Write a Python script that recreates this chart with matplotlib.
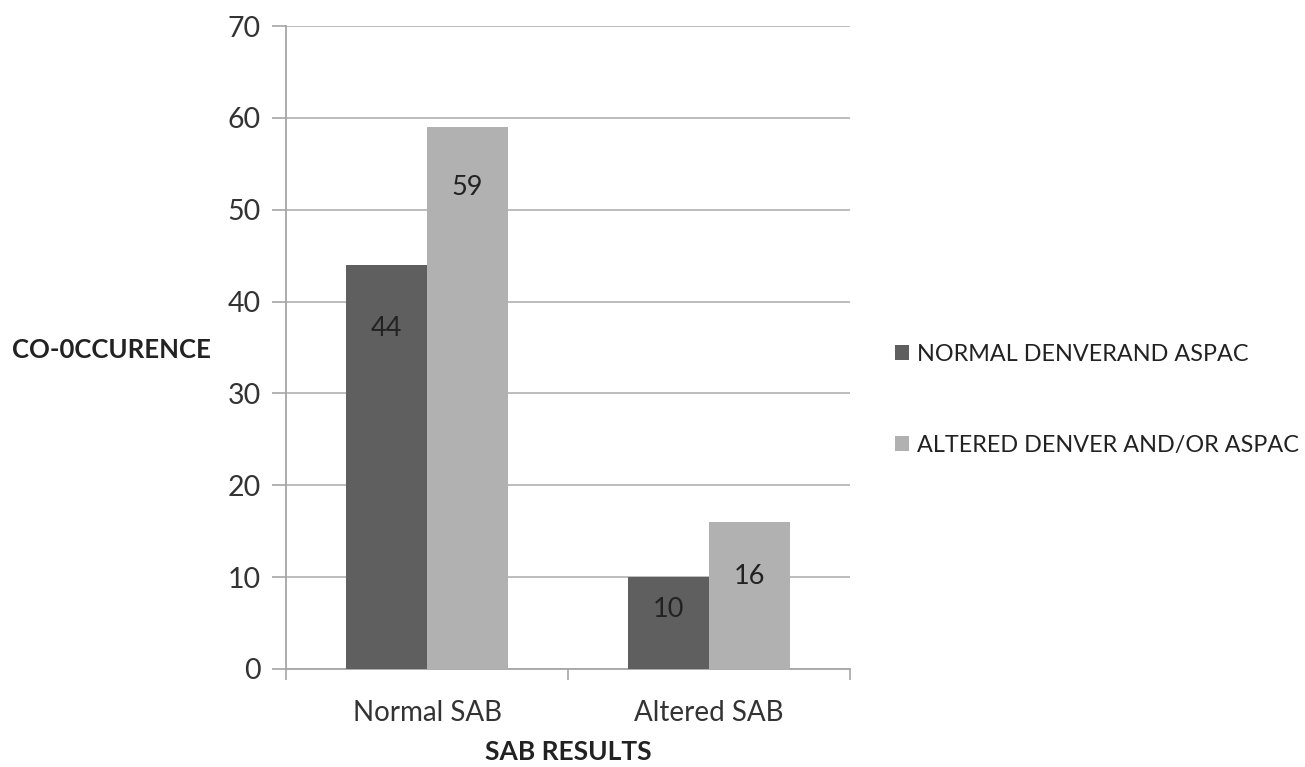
import matplotlib
matplotlib.use("Agg")
import matplotlib.pyplot as plt
import numpy as np

categories = ["Normal SAB", "Altered SAB"]
series_names = ["NORMAL DENVERAND ASPAC", "ALTERED DENVER AND/OR ASPAC"]
normal_vals = [44, 10]
altered_vals = [59, 16]
y_ticks = [0, 10, 20, 30, 40, 50, 60, 70]

plt.rcParams["font.family"] = ["Lato", "DejaVu Sans"]

fig = plt.figure(figsize=(13.05, 7.67), dpi=100)
ax = fig.add_axes([0.2192, 0.1278, 0.4321, 0.8383])

x = np.arange(len(categories))
w = 0.287
colors = ["#5f5f5f", "#b1b1b1"]
b1 = ax.bar(x - w / 2, normal_vals, w, color=colors[0], label=series_names[0], zorder=3)
b2 = ax.bar(x + w / 2, altered_vals, w, color=colors[1], label=series_names[1], zorder=3)

# value labels sit inside the bars, a little below each top
offsets = [[6.9, 3.5], [6.6, 5.9]]
for bars, vals, offs in zip([b1, b2], [normal_vals, altered_vals], offsets):
    for rect, v, o in zip(bars, vals, offs):
        ax.text(rect.get_x() + rect.get_width() / 2, v - o, str(v),
                ha="center", va="center", fontsize=19.5, color="#222222", zorder=4)

ax.set_xlim(-0.5, 1.5)
ax.set_ylim(0, 70)
ax.set_yticks(y_ticks)
ax.set_xticks(x)
ax.set_xticklabels(categories)
ax.set_xticks([-0.5, 0.5, 1.5], minor=True)
ax.tick_params(axis="x", which="major", length=0, pad=22, labelsize=20, labelcolor="#333333")
ax.tick_params(axis="x", which="minor", length=8, width=1.2, color="#a6a6a6", direction="out")
ax.tick_params(axis="y", length=10, width=1.2, color="#a6a6a6", labelsize=20.5,
               labelcolor="#333333", pad=8)

ax.grid(axis="y", color="#b8b8b8", linewidth=1.3, zorder=0)
for s in ["top", "right"]:
    ax.spines[s].set_visible(False)
for s in ["left", "bottom"]:
    ax.spines[s].set_color("#a6a6a6")
    ax.spines[s].set_linewidth(1.3)

fig.text(568 / 1305, 1 - 752 / 767, "SAB RESULTS", ha="center", va="center",
         fontsize=19, fontweight="bold", color="#222222")
fig.text(12 / 1305, 1 - 350 / 767, "CO-0CCURENCE", ha="left", va="center",
         fontsize=18.5, fontweight="bold", color="#222222")

fig.legend(handles=[b1, b2], labels=series_names, loc="upper left",
           bbox_to_anchor=(874 / 1305, 1 - 323 / 767), frameon=False,
           handlelength=0.6, handleheight=0.6, handletextpad=0.35,
           labelspacing=3.0, fontsize=16.8, labelcolor="#222222")

fig.savefig("out.png", dpi=100)
